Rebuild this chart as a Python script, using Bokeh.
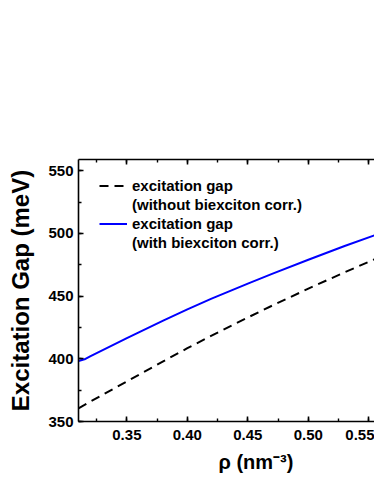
from bokeh.plotting import figure
from bokeh.models import (Range1d, LinearAxis, SingleIntervalTicker, PrintfTickFormatter,
                          Legend, LegendItem, Title, CustomJSTickFormatter)
from bokeh.embed import file_html
from bokeh.resources import INLINE

# ---- data ----
rho = [0.31, 0.315, 0.32, 0.35, 0.38, 0.40, 0.42, 0.45, 0.47, 0.50, 0.53, 0.555]
gap_without_biex = [360.5, 363.2, 366.0, 382.0, 398.0, 408.5, 418.5, 433.0, 442.4, 456.0, 469.0, 479.5]
gap_with_biex = [398.2, 399.6, 402.2, 416.5, 430.5, 439.5, 448.0, 460.0, 467.8, 479.0, 490.0, 498.6]

legend_labels = ["excitation gap", "(without biexciton corr.)",
                 "excitation gap", "(with biexciton corr.)"]
y_title = "Excitation Gap (meV)"
x_title = "ρ (nm⁻³)"

FONT = "Liberation Sans"

p = figure(width=374, height=484, output_backend="svg", toolbar_location=None,
           x_range=Range1d(0.31, 0.5547), y_range=Range1d(350, 559),
           min_border_left=78, min_border_top=159, min_border_right=0,
           min_border_bottom=63)
p.outline_line_color = None
p.xgrid.visible = False
p.ygrid.visible = False
p.background_fill_color = "white"
p.border_fill_color = "white"


def style_axis(ax):
    ax.axis_line_color = "black"
    ax.axis_line_width = 1.6
    ax.major_tick_line_color = "black"
    ax.major_tick_line_width = 1.6
    ax.minor_tick_line_color = "black"
    ax.minor_tick_line_width = 1.4
    ax.major_tick_in = 5
    ax.major_tick_out = 0
    ax.minor_tick_in = 3
    ax.minor_tick_out = 0
    ax.major_label_text_font = FONT
    ax.major_label_text_font_style = "bold"
    ax.major_label_text_font_size = "15px"
    ax.major_label_text_color = "black"


xaxis = p.xaxis[0]
xaxis.ticker = SingleIntervalTicker(interval=0.05, num_minor_ticks=2)
xaxis.formatter = PrintfTickFormatter(format="%.2f")
style_axis(xaxis)
xaxis.major_label_standoff = 8

yaxis = p.yaxis[0]
yaxis.ticker = SingleIntervalTicker(interval=50, num_minor_ticks=2)
style_axis(yaxis)
yaxis.major_label_standoff = 5
yaxis.axis_label = y_title
yaxis.axis_label_text_font = FONT
yaxis.axis_label_text_font_style = "bold"
yaxis.axis_label_text_font_size = "24px"
yaxis.axis_label_text_color = "black"
yaxis.axis_label_standoff = 11

top_axis = LinearAxis(ticker=SingleIntervalTicker(interval=0.05, num_minor_ticks=2),
                      formatter=CustomJSTickFormatter(code="return ''"))
style_axis(top_axis)
p.add_layout(top_axis, "above")

r_without = p.line(rho, gap_without_biex, line_color="black", line_width=2,
                   line_dash="9 6")
r_with = p.line(rho, gap_with_biex, line_color="#0000ff", line_width=2)
blank1 = p.line(rho, gap_without_biex, line_alpha=0)
blank2 = p.line(rho, gap_with_biex, line_alpha=0)

legend = Legend(items=[
    LegendItem(label=legend_labels[0], renderers=[r_without]),
    LegendItem(label=legend_labels[1], renderers=[blank1]),
    LegendItem(label=legend_labels[2], renderers=[r_with]),
    LegendItem(label=legend_labels[3], renderers=[blank2]),
], location=(21, 169))
legend.border_line_color = None
legend.background_fill_alpha = 0
legend.padding = 0
legend.margin = 0
legend.spacing = 0
legend.glyph_width = 28
legend.glyph_height = 19
legend.label_height = 19
legend.label_standoff = 5
legend.label_text_font = FONT
legend.label_text_font_style = "bold"
legend.label_text_font_size = "15px"
legend.label_text_color = "black"
p.add_layout(legend)

x_label = Title(text=x_title, align="left", offset=140, standoff=12,
                text_font=FONT, text_font_style="bold", text_font_size="20px",
                text_color="black")
p.add_layout(x_label, "below")

open("out.html", "w").write(file_html(p, INLINE))
